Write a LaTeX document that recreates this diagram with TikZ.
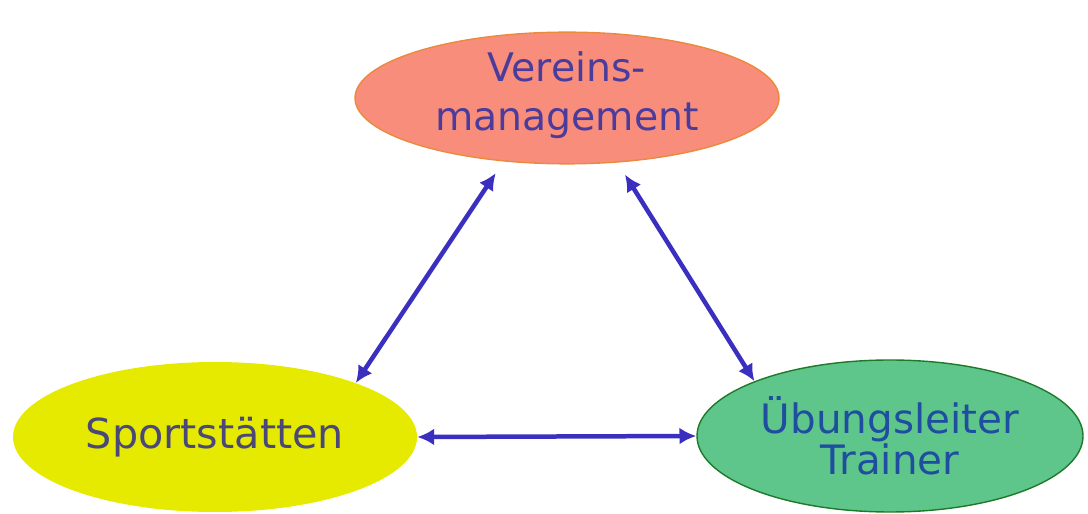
\documentclass[tikz,border=0pt]{standalone}
\usepackage{fontspec}
\setmainfont{DejaVu Sans}
\usepackage{xcolor}
\usepackage{tikz}
\usetikzlibrary{positioning,shapes.geometric,arrows.meta}

\definecolor{vereinfill}{HTML}{F98D7B}
\definecolor{vereinline}{HTML}{E98A3C}
\definecolor{vereintext}{HTML}{4B3C9C}
\definecolor{sportfill}{HTML}{E6EA00}
\definecolor{sporttext}{HTML}{4A4878}
\definecolor{trainerfill}{HTML}{5EC68A}
\definecolor{trainerline}{HTML}{1E7A2A}
\definecolor{trainertext}{HTML}{1F4EA0}
\definecolor{linkblue}{HTML}{3B2FC0}

\begin{document}
\begin{tikzpicture}
				\tikzset{
					blob/.style={ellipse, inner sep=0pt, align=center},
					link/.style={draw=linkblue, line width=3.2pt, {Latex[length=4.2mm,width=4.2mm]}-{Latex[length=4.2mm,width=4.2mm]}}
				}
				\useasboundingbox (0,0) rectangle (27.2,12.85);
				
				% ---- Vereinsmanagement (top) ----
				\node[blob, fill=vereinfill, draw=vereinline, line width=1pt, minimum width=10.6cm, minimum height=3.25cm,
				      text=vereintext, font=\fontsize{28}{36}\selectfont] (verein) at (14.175,10.4)
				      {\raisebox{0.35cm}{\shortstack{Vereins-\\[0.42cm]management}}};
				
				% ---- Sportstaetten (left) ----
				\node[blob, fill=sportfill, minimum width=10.1cm, minimum height=3.75cm,
				      text=sporttext, font=\fontsize{29.4}{32}\selectfont] (sport) at (5.375,1.925) {Sportstätten};
				
				% ---- Uebungsleiter / Trainer (right) ----
				\node[blob, fill=trainerfill, draw=trainerline, line width=1pt, minimum width=9.65cm, minimum height=3.8cm,
				      text=trainertext, font=\fontsize{28.8}{26}\selectfont] (trainer) at (22.25,1.95) {Übungsleiter\\Trainer};
				
				\draw[link, shorten >=3.5mm] (sport.21) -- (verein.-135);
				\draw[link, shorten <=3.5mm] (verein.-52) -- (trainer.158);
				\draw[link] (sport.east) -- (trainer.west);
			\end{tikzpicture}
\end{document}
